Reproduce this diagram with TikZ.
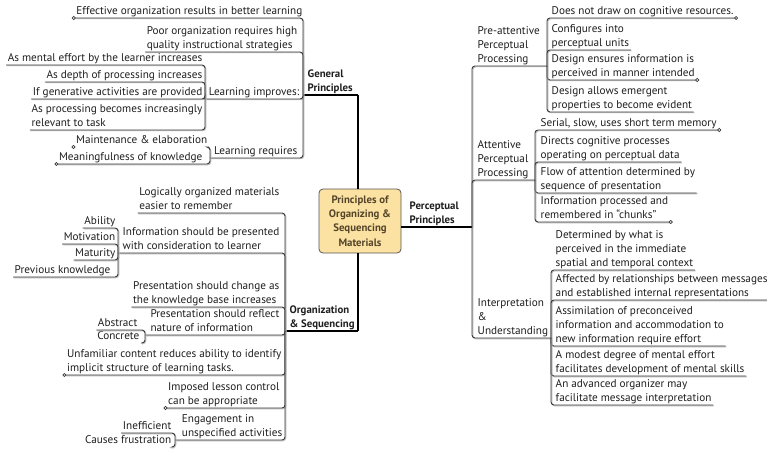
\documentclass[tikz,border=0pt]{standalone}
\usepackage{fontspec}
\setmainfont{PT Sans}
\definecolor{linec}{HTML}{3A3A3A}
\definecolor{shadowc}{HTML}{B8B8B8}
\definecolor{txtc}{HTML}{1E1E1E}
\definecolor{cfill}{HTML}{FCE2A2}
\definecolor{cdraw}{HTML}{555555}
\definecolor{ctext}{HTML}{54452A}
\begin{document}
\begin{tikzpicture}[x=1pt,y=-1pt,
  txt/.style={font=\fontsize{11.2}{14}\selectfont, text=txtc, align=left, inner xsep=1.5pt, inner ysep=1pt, text depth=2pt},
  lt/.style={txt, anchor=south east},
  rt/.style={txt, anchor=south west},
  bt/.style={txt, anchor=south west, font=\fontsize{10.8}{14}\selectfont\bfseries},
  conn/.style={draw=linec, line width=0.9pt, rounded corners=3pt,
    preaction={draw=shadowc, line width=0.9pt, transform canvas={xshift=0.8pt,yshift=-0.8pt}}},
  mainthin/.style={draw=black, line width=1.4pt},
  mainthick/.style={draw=black, line width=2.4pt},
  dot/.style={circle, draw=linec, fill=white, line width=0.7pt, inner sep=0pt, minimum size=3.2pt}
]
\useasboundingbox (0,0) rectangle (767,449);

% central node
\node[draw=cdraw, fill=cfill, rounded corners=4pt, line width=0.8pt, minimum width=82pt, minimum height=64pt,
  align=center, text=ctext, font=\fontsize{10.8}{14.3}\selectfont\bfseries, inner sep=0pt] (center) at (360,221)
  {Principles of\\Organizing \&\\Sequencing\\Materials};

% main branch nodes
\node[bt] (gp) at (306,95) {General\\Principles};
\node[bt] (os) at (288,331) {Organization\\\& Sequencing};
\node[bt] (pp) at (408,227) {Perceptual\\Principles};

% junction coordinates
\coordinate (GPj) at (303,95);
\coordinate (GPk) at (358,95);
\coordinate (OSj) at (285,331);
\coordinate (OSk) at (358,331);
\coordinate (PPj) at (472,227);
\coordinate (LIj) at (205,99);
\coordinate (LRj) at (210,158);
\coordinate (O2j) at (118,253);
\coordinate (O4j) at (145,335);
\coordinate (O7j) at (175,440);
\coordinate (PAj) at (547,66);
\coordinate (APj) at (535,180);
\coordinate (IUj) at (551,338);

% General Principles group
\node[lt] (e1) at (304,18) {Effective organization results in better learning};
\node[lt] (e2) at (299,52) {Poor organization requires high\\quality instructional strategies};
\node[lt] (li) at (301,99) {Learning improves:};
\node[lt] (lr) at (299,158) {Learning requires};
\node[lt] (i1) at (204,65) {As mental effort by the learner increases};
\node[lt] (i2) at (204,82) {As depth of processing increases};
\node[lt] (i3) at (204,99) {If generative activities are provided};
\node[lt] (i4) at (204,130) {As processing becomes increasingly\\relevant to task};
\node[lt] (r1) at (209,147) {Maintenance \& elaboration};
\node[lt] (r2) at (204,164) {Meaningfulness of knowledge};

% Organization & Sequencing group
\node[lt] (o1) at (281,213) {Logically organized materials\\easier to remember};
\node[lt] (o2) at (281,253) {Information should be presented\\with consideration to learner};
\node[lt] (o3) at (281,307) {Presentation should change as\\the knowledge base increases};
\node[lt] (o4) at (281,335) {Presentation should reflect\\nature of information};
\node[lt] (o5) at (283,375) {Unfamiliar content reduces ability to identify\\implicit structure of learning tasks.};
\node[lt] (o6) at (281,408) {Imposed lesson control\\can be appropriate};
\node[lt] (o7) at (284,440) {Engagement in\\unspecified activities};
\node[lt] (a1) at (117,228) {Ability};
\node[lt] (a2) at (117,244) {Motivation};
\node[lt] (a3) at (117,260) {Maturity};
\node[lt] (a4) at (112,277) {Previous knowledge};
\node[lt] (b1) at (139,330) {Abstract};
\node[lt] (b2) at (141,343) {Concrete};
\node[lt] (c1) at (173,433) {Inefficient};
\node[lt] (c2) at (173,447) {Causes frustration};

% Perceptual Principles group
\node[rt] (pa) at (476,66) {Pre-attentive\\Perceptual\\Processing};
\node[rt] (ap) at (476,180) {Attentive\\Perceptual\\Processing};
\node[rt] (iu) at (476,338) {Interpretation\\\&\\Understanding};
\node[rt] (d1) at (550,18) {Does not draw on cognitive resources.};
\node[rt] (d2) at (550,50) {Configures into\\perceptual units};
\node[rt] (d3) at (550,80) {Design ensures information is\\perceived in manner intended};
\node[rt] (d4) at (550,112) {Design allows emergent\\properties to become evident};
\node[rt] (f1) at (539,130) {Serial, slow, uses short term memory};
\node[rt] (f2) at (539,162) {Directs cognitive processes\\operating on perceptual data};
\node[rt] (f3) at (539,193) {Flow of attention determined by\\sequence of presentation};
\node[rt] (f4) at (539,222) {Information processed and\\remembered in “chunks”};
\node[rt] (g1) at (554,270) {Determined by what is\\perceived in the immediate\\spatial and temporal context};
\node[rt] (g2) at (554,300) {Affected by relationships between messages\\and established internal representations};
\node[rt] (g3) at (554,346) {Assimilation of preconceived\\information and accommodation to\\new information require effort};
\node[rt] (g4) at (554,376) {A modest degree of mental effort\\facilitates development of mental skills};
\node[rt] (g5) at (554,405) {An advanced organizer may\\facilitate message interpretation};

% main connectors
\draw[mainthin] (GPj) -- (GPk);
\draw[mainthick] (GPk) -- (GPk |- center.north);
\draw[mainthin] (OSj) -- (OSk);
\draw[mainthick] (OSk) -- (OSk |- center.south);
\draw[mainthin] (center.east |- PPj) -- (PPj);

% General Principles connectors
\draw[conn] (e1.south west) -| (GPj);
\draw[conn] (e2.south west) -| (GPj);
\draw[conn] (LIj) -| (GPj);
\draw[conn] (LRj) -| (GPj);
\draw[conn] (i1.south west) -| (LIj);
\draw[conn] (i2.south west) -| (LIj);
\draw[conn] (i3.south west) -| (LIj);
\draw[conn] (i4.south west) -| (LIj);
\draw[conn] (r1.south east) -| (LRj);
\draw[conn] (r2.south west) -| (LRj);

% Organization & Sequencing connectors
\draw[conn] (o1.south west) -| (OSj);
\draw[conn] (O2j) -| (OSj);
\draw[conn] (o3.south west) -| (OSj);
\draw[conn] (O4j) -| (OSj);
\draw[conn] (o5.south west) -| (OSj);
\draw[conn] (o6.south west) -| (OSj);
\draw[conn] (O7j) -| (OSj);
\draw[conn] (a1.south west) -| (O2j);
\draw[conn] (a2.south west) -| (O2j);
\draw[conn] (a3.south west) -| (O2j);
\draw[conn] (a4.south west) -| (O2j);
\draw[conn] (b1.south west) -| (O4j);
\draw[conn] (b2.south east) -| (O4j);
\draw[conn] (c1.south west) -| (O7j);
\draw[conn] (c2.south east) -| (O7j);

% Perceptual Principles connectors
\draw[conn] (PAj) -| (PPj);
\draw[conn] (APj) -| (PPj);
\draw[conn] (IUj) -| (PPj);
\draw[conn] (d1.south east) -| (PAj);
\draw[conn] (d2.south east) -| (PAj);
\draw[conn] (d3.south east) -| (PAj);
\draw[conn] (d4.south east) -| (PAj);
\draw[conn] (f1.south east) -| (APj);
\draw[conn] (f2.south east) -| (APj);
\draw[conn] (f3.south east) -| (APj);
\draw[conn] (f4.south east) -| (APj);
\draw[conn] (g1.south east) -| (IUj);
\draw[conn] (g2.south east) -| (IUj);
\draw[conn] (g3.south east) -| (IUj);
\draw[conn] (g4.south east) -| (IUj);
\draw[conn] (g5.south east) -| (IUj);

% collapse markers
\node[dot] (m1) at ([xshift=-1pt]e1.south west) {};
\node[dot] (m2) at ([xshift=-1pt]r1.south west) {};
\node[dot] (m3) at ([xshift=-1pt]r2.south west) {};
\node[dot] (m4) at ([xshift=-1pt]o5.south west) {};
\node[dot] (m5) at ([xshift=-1pt]o6.south west) {};
\node[dot] (m6) at ([xshift=1pt]d1.south east) {};
\node[dot] (m7) at ([xshift=1pt]d3.south east) {};
\node[dot] (m8) at ([xshift=1pt]f1.south east) {};
\node[dot] (m9) at ([xshift=1pt]f4.south east) {};
\end{tikzpicture}
\end{document}
